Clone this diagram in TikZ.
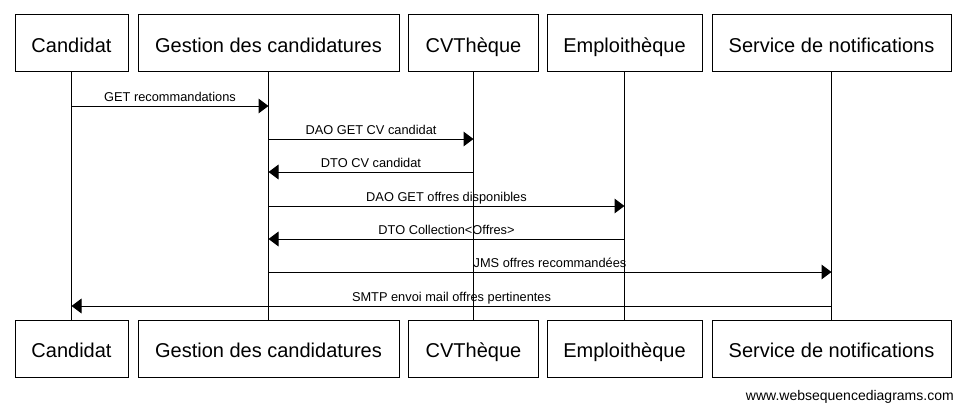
\documentclass[tikz,border=0pt]{standalone}
\usepackage{fontspec}
\setmainfont{Liberation Sans}
\usetikzlibrary{arrows.meta}
\begin{document}
\begin{tikzpicture}[x=0.75pt,y=-0.75pt,
  actor/.style={draw=black,line width=0.75pt,inner sep=0pt,minimum height=42.75pt,
    font=\fontsize{15pt}{18pt}\selectfont,text height=16pt,text depth=3pt},
  life/.style={draw=black,line width=0.75pt},
  msg/.style={draw=black,line width=0.75pt,-{Triangle[length=7.5pt,width=11pt]}},
  lbl/.style={font=\fontsize{9.6pt}{11pt}\selectfont,anchor=base,inner sep=0pt,yshift=3.6pt}]
\useasboundingbox (0,0) rectangle (966,410);
% top boxes
\node[actor,minimum width=84.75pt] (ca) at (71.5,43.5) {Candidat};
\node[actor,minimum width=195.75pt] (gc) at (268.5,43.5) {Gestion des candidatures};
\node[actor,minimum width=97.5pt] (cv) at (473.5,43.5) {CVThèque};
\node[actor,minimum width=116.25pt] (em) at (624.5,43.5) {Emploithèque};
\node[actor,minimum width=179.25pt] (sn) at (831.5,43.5) {Service de notifications};
% bottom boxes
\node[actor,minimum width=84.75pt] (cab) at (71.5,348.5) {Candidat};
\node[actor,minimum width=195.75pt] (gcb) at (268.5,348.5) {Gestion des candidatures};
\node[actor,minimum width=97.5pt] (cvb) at (473.5,348.5) {CVThèque};
\node[actor,minimum width=116.25pt] (emb) at (624.5,348.5) {Emploithèque};
\node[actor,minimum width=179.25pt] (snb) at (831.5,348.5) {Service de notifications};
% lifelines
\draw[life] (ca) -- (cab);
\draw[life] (gc) -- (gcb);
\draw[life] (cv) -- (cvb);
\draw[life] (em) -- (emb);
\draw[life] (sn) -- (snb);
% messages
\draw[msg] (ca.south |- 0,106) -- node[lbl]{GET recommandations} (gc.south |- 0,106);
\draw[msg] (gc.south |- 0,139) -- node[lbl]{DAO GET CV candidat} (cv.south |- 0,139);
\draw[msg] (cv.south |- 0,172) -- node[lbl]{DTO CV candidat} (gc.south |- 0,172);
\draw[msg] (gc.south |- 0,206) -- node[lbl]{DAO GET offres disponibles} (em.south |- 0,206);
\draw[msg] (em.south |- 0,239) -- node[lbl]{DTO Collection<Offres>} (gc.south |- 0,239);
\draw[msg] (gc.south |- 0,272) -- node[lbl]{JMS offres recommandées} (sn.south |- 0,272);
\draw[msg] (sn.south |- 0,306) -- node[lbl]{SMTP envoi mail offres pertinentes} (ca.south |- 0,306);
% watermark
\node[anchor=base east,inner sep=0pt,font=\fontsize{10.5pt}{12pt}\selectfont] (wm) at (954,400) {www.websequencediagrams.com};
\end{tikzpicture}
\end{document}
